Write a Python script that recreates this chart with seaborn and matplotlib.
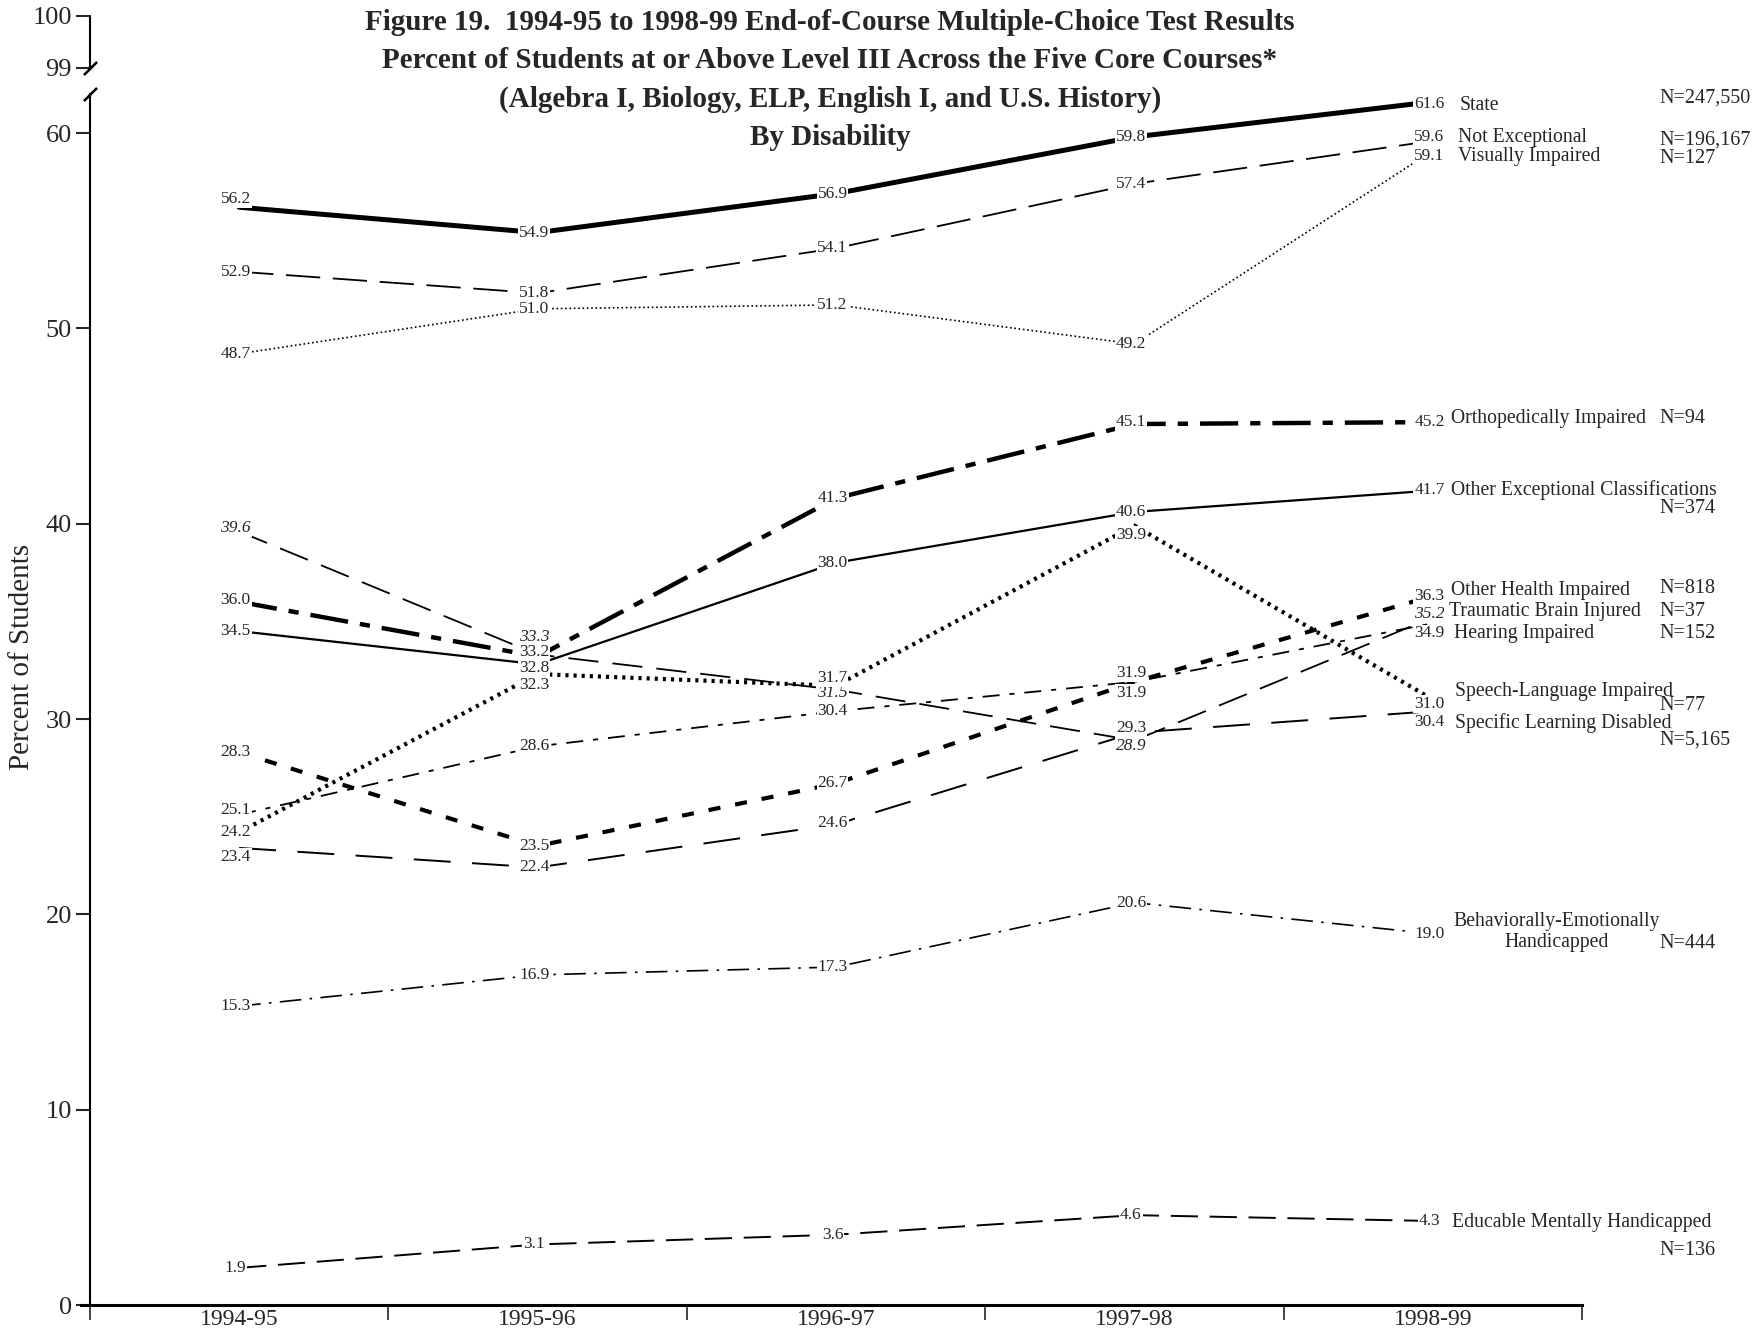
import numpy as np
import pandas as pd
import matplotlib
matplotlib.use("Agg")
import matplotlib.pyplot as plt
import seaborn as sns

# ---- data ----
years = ["1994-95", "1995-96", "1996-97", "1997-98", "1998-99"]

state = [56.2, 54.9, 56.9, 59.8, 61.6]
not_exceptional = [52.9, 51.8, 54.1, 57.4, 59.6]
visually_impaired = [48.7, 51.0, 51.2, 49.2, 59.1]
orthopedically_impaired = [36.0, 33.2, 41.3, 45.1, 45.2]
other_exceptional = [34.5, 32.8, 38.0, 40.6, 41.7]
other_health_impaired = [28.3, 23.5, 26.7, 31.9, 36.3]
traumatic_brain_injured = [39.6, 33.3, 31.5, 28.9, 35.2]
hearing_impaired = [25.1, 28.6, 30.4, 31.9, 34.9]
speech_language_impaired = [24.2, 32.3, 31.7, 39.9, 31.0]
learning_disabled = [23.4, 22.4, 24.6, 29.3, 30.4]
behaviorally_emotionally = [15.3, 16.9, 17.3, 20.6, 19.0]
educable_mentally = [1.9, 3.1, 3.6, 4.6, 4.3]

series_names = ["State", "Not Exceptional", "Visually Impaired", "Orthopedically Impaired",
                "Other Exceptional Classifications", "Other Health Impaired",
                "Traumatic Brain Injured", "Hearing Impaired", "Speech-Language Impaired",
                "Specific Learning Disabled", "Behaviorally-Emotionally\nHandicapped",
                "Educable Mentally Handicapped"]
n_labels = ["N=247,550", "N=196,167", "N=127", "N=94", "N=374", "N=818", "N=37",
            "N=152", "N=77", "N=5,165", "N=444", "N=136"]

title_lines = ["Figure 19.  1994-95 to 1998-99 End-of-Course Multiple-Choice Test Results",
               "Percent of Students at or Above Level III Across the Five Core Courses*",
               "(Algebra I, Biology, ELP, English I, and U.S. History)",
               "By Disability"]

values = [state, not_exceptional, visually_impaired, orthopedically_impaired,
          other_exceptional, other_health_impaired, traumatic_brain_injured,
          hearing_impaired, speech_language_impaired, learning_disabled,
          behaviorally_emotionally, educable_mentally]

rows = []
for name, vals in zip(series_names, values):
    for i, v in enumerate(vals):
        rows.append({"series": name, "pos": i, "pct": v})
df = pd.DataFrame(rows)

# ---- styles / layout ----
line_width = [3.6, 1.3, 1.2, 3.2, 1.6, 3.0, 1.3, 1.3, 3.0, 1.4, 1.2, 1.4]
line_dash = ["-", (0, (19, 7)), (0, (1, 1.6)), (0, (8.6, 2.7, 2.3, 2.7)), "-",
             (0, (2.9, 3.6)), (0, (16.7, 7.8)), (0, (9.4, 5.5, 2.8, 5.5)),
             (0, (0.75, 1.2)), (0, (19, 11)), (0, (13, 5, 1.5, 5)), (0, (14, 6))]
# vertical nudges of the value labels (pixels, downward)
label_dy = [[-7, 0, 0, 0, 2], [0, 0, 0, 0, -3], [0, 0, 0, 0, 5], [-2, -4, 0, -2, 0],
            [0, 3, 0, 0, 0], [0, 0, 0, 10, 0], [-3, -16, 3, 5, -3], [-4, 0, 0, -8, 9],
            [0, 10, -7, 8, 4], [8, 0, -1, -4, 10], [0] * 5, [0] * 5]
italic = [False] * 6 + [True] + [False] * 5
name_y = [61.4, 59.75, 58.8, 45.4, 41.7, 36.6, 35.5, 34.4, 31.4, 29.8, 19.1, 4.2]
name_dx = [19, 18, 18, 13, 13, 13, 12, 15, 16, 16, 15, 14]
n_y = [61.8, 59.65, 58.7, 45.4, 40.8, 36.7, 35.5, 34.4, 30.7, 28.9, 18.5, 2.8]

sns.set_style("white")
plt.rcParams["font.family"] = ["Liberation Serif", "DejaVu Serif"]


def fwd(y):
    y = np.asarray(y, float)
    return np.where(y <= 62, y, np.where(y <= 99, 62 + (y - 62) * (1.33 / 37),
                                         63.33 + (y - 99) * 2.66))


def inv(z):
    z = np.asarray(z, float)
    return np.where(z <= 62, z, np.where(z <= 63.33, 62 + (z - 62) * (37 / 1.33),
                                         99 + (z - 63.33) / 2.66))


fig = plt.figure(figsize=(17.62, 13.32), dpi=100)
ax = fig.add_axes([81 / 1762, 1 - 1305 / 1332, 1501 / 1762, 1289 / 1332])
ax.set_yscale("function", functions=(fwd, inv))

for k, name in enumerate(series_names):
    sub = df[df["series"] == name]
    sns.lineplot(data=sub, x="pos", y="pct", ax=ax, color="black",
                 linewidth=line_width[k], linestyle=line_dash[k], zorder=3)
    for i, v in enumerate(sub["pct"]):
        ax.annotate(f"{v:.1f}", xy=(i, v), xytext=(-2.5, -label_dy[k][i] * 0.81),
                    textcoords="offset points", ha="center", va="center", fontsize=12.5,
                    style="italic" if italic[k] else "normal", zorder=5,
                    bbox=dict(boxstyle="square,pad=0.05", fc="white", ec="none"))
    ax.annotate(name, xy=(4, name_y[k]), xytext=(name_dx[k], 0), textcoords="offset points",
                ha="left", va="center", fontsize=14.2, multialignment="center",
                annotation_clip=False)
    ax.text(4.76, n_y[k], n_labels[k], ha="left", va="center", fontsize=14.5, clip_on=False)

ax.set_xlim(-0.53, 4.5)
ax.set_ylim(0, 100)
ax.set_xlabel("")
ax.set_ylabel("")

# x axis: ticks at the column edges, labels at the centres
ax.set_xticks(np.arange(-0.5, 5, 1))
ax.set_xticklabels([])
ax.set_xticks(range(len(years)), minor=True)
ax.set_xticklabels(years, minor=True)
ax.tick_params(axis="x", which="major", direction="out", length=11, width=1.2, bottom=True)
ax.tick_params(axis="x", which="minor", length=0, pad=3, labelsize=17)

ax.set_yticks([0, 10, 20, 30, 40, 50, 60, 99, 100])
ax.set_yticklabels(["0", "10", "20", "30", "40", "50", "60", "99", "100"])
ax.tick_params(axis="y", direction="out", length=10, width=1.5, left=True, pad=3,
               labelsize=19)

for s in ["top", "right"]:
    ax.spines[s].set_visible(False)
ax.spines["left"].set_position(("data", -0.5))
ax.spines["left"].set_bounds(0, 62.05)
ax.spines["left"].set_linewidth(1.5)
ax.spines["bottom"].set_linewidth(2.2)
ax.spines["left"].set_color("black")
ax.spines["bottom"].set_color("black")

# broken axis: upper stub and the two slashes
ax.plot([-0.5, -0.5], [99, 100], color="black", lw=1.5, clip_on=False)
ax.plot([-0.5, -0.5], [62.05, 99], color="black", lw=0, marker=(2, 2, -45),
        markersize=13, markeredgewidth=1.6, clip_on=False)

fig.text(22 / 1762, 1 - 657 / 1332, "Percent of Students", rotation=90,
         ha="center", va="center", fontsize=21)
for i, line in enumerate(title_lines):
    fig.text(0.471, 1 - (22 + 38.5 * i) / 1332, line, ha="center", va="center",
             fontsize=21, fontweight="bold")

fig.savefig("out.png", dpi=100)
